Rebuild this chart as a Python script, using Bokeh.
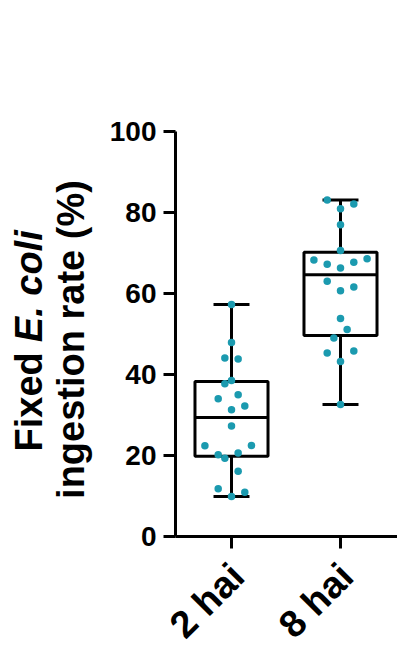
from math import pi

from bokeh.core.properties import value
from bokeh.embed import file_html
from bokeh.models import ColumnDataSource, FixedTicker, LinearAxis
from bokeh.plotting import figure
from bokeh.resources import INLINE

# groups on the x axis
categories = ["2 hai", "8 hai"]
positions = [1, 2]

# individual ingestion rates (%)
rate_2hai = [57.3, 47.9, 44.1, 43.8, 38.5, 37.7, 35.0, 34.0, 32.2, 31.3,
             27.3, 22.5, 22.4, 20.6, 20.2, 19.3, 16.1, 11.8, 10.9, 9.9]
rate_8hai = [83.1, 82.1, 80.9, 77.0, 70.6, 68.6, 68.3, 67.7, 67.2, 66.3,
             63.0, 61.6, 60.7, 53.8, 51.1, 49.0, 45.8, 45.3, 43.2, 32.6]

# beeswarm side steps of each dot (in dot widths)
swarm_2hai = [0, 0, -1, 1, 0, -1, 1, -2, 2, 0, 0, 3, -4, 1, -2, -1, 1, -2, 2, 0]
swarm_8hai = [-2, 2, 0, 0, 0, 4, -4, 2, -2, 0, -2, 2, 0, 0, 1, -1, 2, -2, 0, 0]

# box statistics
q1 = [19.8, 49.6]
median = [29.4, 64.6]
q3 = [38.3, 70.2]
y_ticks = [0, 20, 40, 60, 80, 100]

teal = "#1b9aaf"
font = "Liberation Sans"
step = 0.061

# page geometry (pixels): plot area 175..397 wide, 131..536 high
W, H = 397, 650
PX_X, PX_Y = 109.0, 4.05          # pixels per x unit / per y unit
X_LEFT = 1 - 231 / PX_X           # x value at left page edge
Y_TOP = 100 + 131 / PX_Y          # y value at top page edge
X0, X1 = X_LEFT + 175 / PX_X, X_LEFT + W / PX_X


def px_x(px):
    return X_LEFT + px / PX_X


def px_y(py):
    return Y_TOP - py / PX_Y


p = figure(
    width=W,
    height=H,
    x_range=(X_LEFT, X1),
    y_range=(px_y(H), Y_TOP),
    output_backend="svg",
    toolbar_location=None,
    x_axis_location=None,
    y_axis_location=None,
    min_border=0,
)
p.outline_line_color = None
p.grid.grid_line_color = None

groups = [rate_2hai, rate_8hai]
swarms = [swarm_2hai, swarm_8hai]
lo = [min(g) for g in groups]
hi = [max(g) for g in groups]

# whiskers and caps
p.segment(positions, q3, positions, hi, line_color="black", line_width=3)
p.segment(positions, lo, positions, q1, line_color="black", line_width=3)
p.segment([x - 0.165 for x in positions], hi, [x + 0.165 for x in positions], hi,
          line_color="black", line_width=3)
p.segment([x - 0.165 for x in positions], lo, [x + 0.165 for x in positions], lo,
          line_color="black", line_width=3)

# boxes and medians
p.quad(left=[x - 0.335 for x in positions], right=[x + 0.335 for x in positions],
       bottom=q1, top=q3, fill_color=None, line_color="black", line_width=3)
p.segment([x - 0.335 for x in positions], median, [x + 0.335 for x in positions], median,
          line_color="black", line_width=3)

# points
xs, ys = [], []
for pos, vals, sw in zip(positions, groups, swarms):
    for v, s in zip(vals, sw):
        xs.append(pos + s * step)
        ys.append(v)
src = ColumnDataSource(data=dict(x=xs, y=ys))
p.scatter("x", "y", source=src, size=7.5, fill_color=teal, line_color=None)

# axes pinned at the origin, limited to the data area
yaxis = LinearAxis(fixed_location=X0, bounds=(0, 100), ticker=FixedTicker(ticks=y_ticks))
xaxis = LinearAxis(fixed_location=0, bounds=(X0, X1), ticker=FixedTicker(ticks=positions),
                   major_label_overrides={pos: "" for pos in positions})
for ax in (xaxis, yaxis):
    ax.axis_line_width = 3
    ax.major_tick_line_width = 3
    ax.major_tick_out = 12
    ax.major_tick_in = 0
    ax.minor_tick_line_color = None
    ax.major_label_text_font = font
    ax.major_label_text_font_style = "bold"
    ax.major_label_text_color = "black"
yaxis.major_label_text_font_size = "28px"
yaxis.major_label_standoff = 7
p.add_layout(yaxis, "left")
p.add_layout(xaxis, "below")

# rotated category labels (centred on each label)
p.text([pos - 24.5 / PX_X for pos in positions], [px_y(600)] * len(positions),
       text=categories, angle=pi / 4, text_align="center", text_baseline="middle",
       text_font=value(font), text_font_style="bold", text_font_size="38px",
       text_color="black")

# two-line y title with italic species name
title_style = dict(angle=pi / 2, text_baseline="alphabetic", text_font=value(font),
                   text_font_size="38px", text_color="black")
p.text([px_x(28)], [px_y(351.7)], text=["Fixed"], text_align="right",
       text_font_style="bold", **title_style)
p.text([px_x(28)], [px_y(341.7)], text=["E. coli"], text_align="left",
       text_font_style="bold italic", **title_style)
p.text([px_x(70)], [px_y(339)], text=["ingestion rate (%)"], text_align="center",
       text_font_style="bold", **title_style)

open("out.html", "w").write(file_html(p, INLINE))
